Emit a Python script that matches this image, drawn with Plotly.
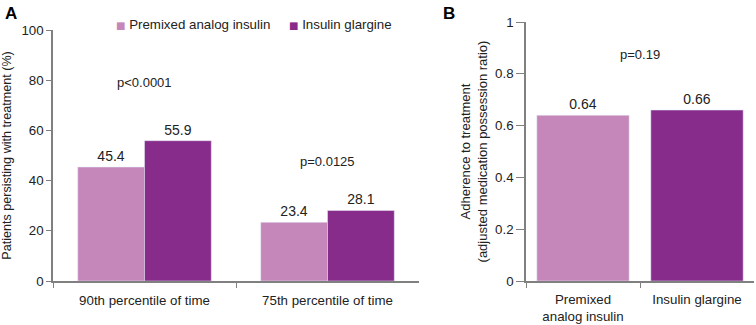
import plotly.graph_objects as go

cats_a = ["90th percentile of time", "75th percentile of time"]
premixed_a = [45.4, 23.4]
glargine_a = [55.9, 28.1]
series_names = ["Premixed analog insulin", "Insulin glargine"]

cats_b = ["Premixed<br>analog insulin", "Insulin glargine"]
adherence_b = [0.64, 0.66]

p_a = ["p<0.0001", "p=0.0125"]
p_a_y = [79, 47.5]
p_b = "p=0.19"
p_b_y = 0.875

light = "#C587BA"
dark = "#872C8A"
series_colors = [light, dark]
axis_col = "#808080"
FONT = "Liberation Sans, Arial, sans-serif"

W, H = 756, 325

def px_x(x):
    return x / W

def px_y(y):
    return 1 - y / H

fig = go.Figure()

fig.add_trace(go.Bar(x=cats_a, y=premixed_a, name=series_names[0], marker_color=light,
                     text=[f"{v:.1f}" for v in premixed_a], textposition="outside",
                     textfont=dict(size=14, color="#222"), cliponaxis=False,
                     xaxis="x", yaxis="y"))
fig.add_trace(go.Bar(x=cats_a, y=glargine_a, name=series_names[1], marker_color=dark,
                     text=[f"{v:.1f}" for v in glargine_a], textposition="outside",
                     textfont=dict(size=14, color="#222"), cliponaxis=False,
                     xaxis="x", yaxis="y"))
fig.add_trace(go.Bar(x=cats_b, y=adherence_b, marker_color=series_colors,
                     text=[f"{v:.2f}" for v in adherence_b], textposition="outside",
                     textfont=dict(size=14, color="#222"), cliponaxis=False,
                     width=0.81, xaxis="x2", yaxis="y2"))

axis_common = dict(showline=True, linecolor=axis_col, linewidth=1.5, ticks="outside",
                   tickcolor=axis_col, tickwidth=1.2, showgrid=False,
                   zeroline=False, tickfont=dict(size=13.3, color="#222"))

fig.update_layout(
    width=W, height=H,
    margin=dict(l=0, r=0, t=0, b=0, autoexpand=False),
    paper_bgcolor="white", plot_bgcolor="white",
    font=dict(family=FONT, size=13, color="#222"),
    barmode="group", bargap=0.27, bargroupgap=0,
    showlegend=False,
    xaxis=dict(domain=[px_x(53), px_x(419)], anchor="y", tickson="boundaries",
               ticklen=5, ticklabelstandoff=6, **axis_common),
    yaxis=dict(domain=[px_y(281), px_y(30)], anchor="x", range=[0, 100],
               tickvals=[0, 20, 40, 60, 80, 100], ticklen=5,
               title=dict(text="Patients persisting with treatment (%)", font=dict(size=12.6), standoff=12),
               **axis_common),
    xaxis2=dict(domain=[px_x(526), px_x(754)], anchor="y2", tickson="boundaries",
                ticklen=5, ticklabelstandoff=5, **axis_common),
    yaxis2=dict(domain=[px_y(281), px_y(22)], anchor="x2", range=[0, 1],
                tickvals=[0, 0.2, 0.4, 0.6, 0.8, 1], ticktext=["0", "0.2", "0.4", "0.6", "0.8", "1"],
                ticklen=8,
                title=dict(text="Adherence to treatment<br>(adjusted medication possession ratio)",
                           font=dict(size=13), standoff=5),
                **axis_common),
)

annotations = [
    dict(text="<b>A</b>", x=px_x(3), y=px_y(2), xref="paper", yref="paper",
         xanchor="left", yanchor="top", showarrow=False, font=dict(size=17, color="#000")),
    dict(text="<b>B</b>", x=px_x(441), y=px_y(2), xref="paper", yref="paper",
         xanchor="left", yanchor="top", showarrow=False, font=dict(size=17, color="#000")),
]
# legend (panel A) built from series names and colours
legend_x = [114, 287]
for nm, col, lx in zip(series_names, series_colors, legend_x):
    annotations.append(dict(
        text=f"<span style='color:{col};font-size:10px;font-family:DejaVu Sans'>■</span> {nm}",
        x=px_x(lx), y=px_y(24), xref="paper", yref="paper", xanchor="left", yanchor="middle",
        showarrow=False, font=dict(size=13.3, color="#222")))
for c, t, yv in zip(cats_a, p_a, p_a_y):
    annotations.append(dict(text=t, x=c, y=yv, xref="x", yref="y", showarrow=False,
                            font=dict(size=13)))
annotations.append(dict(text=p_b, x=0.5, y=p_b_y, xref="x2 domain", yref="y2",
                        showarrow=False, font=dict(size=13)))
fig.update_layout(annotations=annotations)

fig.write_html("out.html", config={"displayModeBar": False},
               post_script="document.body.style.margin='0';document.body.style.padding='0';")
